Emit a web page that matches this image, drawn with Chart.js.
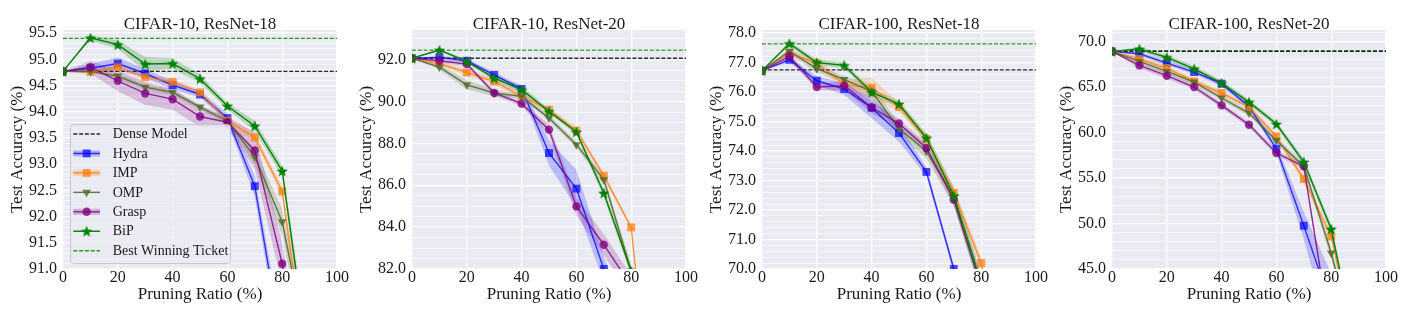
<!DOCTYPE html>
<html>
<head>
<meta charset="utf-8">
<script src="https://cdn.jsdelivr.net/npm/chart.js@4.4.0/dist/chart.umd.min.js"></script>
<style>
  body { margin: 0; background: #fff; width: 1412px; height: 333px; overflow: hidden; position: relative; }
  .panel { position: absolute; top: 0; width: 350px; height: 333px; }
</style>
</head>
<body>
<div class="panel" style="left:0px"><canvas id="c0" width="350" height="333"></canvas></div>
<div class="panel" style="left:349px"><canvas id="c1" width="350" height="333"></canvas></div>
<div class="panel" style="left:699px"><canvas id="c2" width="350" height="333"></canvas></div>
<div class="panel" style="left:1049px"><canvas id="c3" width="350" height="333"></canvas></div>
<script>
const ratios = [0, 10, 20, 30, 40, 50, 60, 70, 80, 90];
const xTicks = [0, 20, 40, 60, 80, 100];
const methods = ["Hydra", "IMP", "OMP", "Grasp", "BiP"];

// CIFAR-10, ResNet-18
const c10r18Dense = 94.77;
const c10r18Best = 95.40;
const c10r18Hydra = [94.77, 94.83, 94.92, 94.73, 94.51, 94.33, 93.88, 92.58, 89.5, 87.0];
const c10r18HydraSd = [0, 0.08, 0.12, 0.08, 0.08, 0.06, 0.08, 0.2, 0.3, 0.4];
const c10r18Imp = [94.77, 94.76, 94.85, 94.66, 94.57, 94.37, 93.83, 93.51, 92.48, 88.8];
const c10r18ImpSd = [0, 0.04, 0.05, 0.05, 0.05, 0.05, 0.05, 0.08, 0.1, 0.3];
const c10r18Omp = [94.77, 94.77, 94.68, 94.47, 94.37, 94.09, 93.82, 93.14, 91.9, 89.3];
const c10r18OmpSd = [0, 0.03, 0.05, 0.05, 0.05, 0.05, 0.05, 0.15, 0.25, 0.3];
const c10r18Grasp = [94.77, 94.85, 94.59, 94.35, 94.24, 93.91, 93.8, 93.26, 91.1, 88.0];
const c10r18GraspSd = [0, 0.12, 0.2, 0.22, 0.2, 0.2, 0.1, 0.35, 0.4, 0.5];
const c10r18Bip = [94.77, 95.41, 95.28, 94.91, 94.92, 94.63, 94.11, 93.73, 92.87, 89.1];
const c10r18BipSd = [0, 0.05, 0.08, 0.14, 0.1, 0.08, 0.06, 0.1, 0.1, 0.3];

// CIFAR-10, ResNet-20
const c10r20Dense = 92.07;
const c10r20Best = 92.46;
const c10r20Hydra = [92.07, 92.11, 91.95, 91.28, 90.6, 87.54, 85.84, 82.0, 78.5, 75.0];
const c10r20HydraSd = [0, 0.08, 0.1, 0.12, 0.15, 0.6, 0.9, 0.6, 0.6, 0.6];
const c10r20Imp = [92.07, 91.81, 91.39, 90.96, 90.25, 89.61, 88.61, 86.46, 83.99, 71.5];
const c10r20ImpSd = [0, 0.1, 0.15, 0.15, 0.12, 0.12, 0.15, 0.15, 0.1, 0.5];
const c10r20Omp = [92.07, 91.65, 90.8, 90.41, 90.25, 89.21, 87.94, 86.27, 81.9, 76.0];
const c10r20OmpSd = [0, 0.12, 0.22, 0.15, 0.1, 0.15, 0.15, 0.2, 0.3, 0.4];
const c10r20Grasp = [92.07, 91.95, 91.79, 90.41, 89.9, 88.66, 84.99, 83.16, 81.2, 77.0];
const c10r20GraspSd = [0, 0.1, 0.12, 0.12, 0.12, 0.25, 0.45, 0.5, 0.5, 0.5];
const c10r20Bip = [92.07, 92.46, 91.92, 91.12, 90.57, 89.53, 88.55, 85.63, 81.9, 75.0];
const c10r20BipSd = [0, 0.06, 0.08, 0.12, 0.2, 0.1, 0.12, 0.2, 0.2, 0.3];

// CIFAR-100, ResNet-18
const c100r18Dense = 76.75;
const c100r18Best = 77.63;
const c100r18Hydra = [76.72, 77.09, 76.38, 76.1, 75.46, 74.61, 73.29, 70.0, 66.0, 62.0];
const c100r18HydraSd = [0, 0.08, 0.15, 0.2, 0.35, 0.3, 0.15, 0.15, 0.3, 0.3];
const c100r18Imp = [76.72, 77.32, 76.98, 76.25, 76.14, 75.49, 74.41, 72.58, 70.2, 65.0];
const c100r18ImpSd = [0, 0.12, 0.1, 0.15, 0.35, 0.15, 0.15, 0.2, 0.2, 0.3];
const c100r18Omp = [76.72, 77.38, 76.79, 76.42, 76.02, 74.75, 73.99, 72.44, 69.5, 65.0];
const c100r18OmpSd = [0, 0.1, 0.12, 0.12, 0.2, 0.2, 0.25, 0.3, 0.3, 0.3];
const c100r18Grasp = [76.72, 77.21, 76.17, 76.21, 75.48, 74.93, 74.1, 72.35, 69.4, 65.0];
const c100r18GraspSd = [0, 0.1, 0.12, 0.15, 0.2, 0.15, 0.15, 0.2, 0.3, 0.3];
const c100r18Bip = [76.72, 77.64, 77.0, 76.9, 75.99, 75.59, 74.44, 72.48, 69.5, 65.0];
const c100r18BipSd = [0, 0.08, 0.1, 0.1, 0.12, 0.12, 0.15, 0.3, 0.3, 0.3];

// CIFAR-100, ResNet-20
const c100r20Dense = 68.92;
const c100r20Best = 68.95;
const c100r20Hydra = [68.9, 68.64, 67.62, 66.63, 65.35, 62.86, 58.21, 49.75, 41.0, 30.0];
const c100r20HydraSd = [0, 0.2, 0.25, 0.25, 0.3, 0.3, 0.5, 1.5, 3.5, 3.0];
const c100r20Imp = [68.9, 68.06, 67.07, 65.6, 64.33, 62.79, 59.56, 54.88, 48.58, 35.0];
const c100r20ImpSd = [0, 0.3, 0.3, 0.3, 0.3, 0.3, 0.3, 0.5, 0.5, 1.0];
const c100r20Omp = [68.9, 67.8, 66.7, 65.53, 63.78, 62.13, 59.12, 56.27, 46.76, 35.0];
const c100r20OmpSd = [0, 0.2, 0.3, 0.3, 0.3, 0.3, 0.3, 0.4, 0.6, 1.0];
const c100r20Grasp = [68.9, 67.36, 66.23, 64.99, 62.97, 60.85, 57.74, 56.27, 37.4, 30.0];
const c100r20GraspSd = [0, 0.3, 0.3, 0.3, 0.3, 0.3, 0.3, 0.3, 0.5, 1.0];
const c100r20Bip = [68.9, 69.16, 68.24, 66.99, 65.42, 63.33, 60.92, 56.75, 49.39, 35.0];
const c100r20BipSd = [0, 0.25, 0.3, 0.3, 0.3, 0.3, 0.3, 0.4, 0.5, 1.0];

const serif = "'Liberation Serif', 'Times New Roman', serif";
const textColor = "#1a1a1a";

// filled five point star used as the BiP marker
function starMarker(r, color) {
  const c = document.createElement("canvas");
  const s = Math.ceil(r * 2 + 2);
  c.width = s;
  c.height = s;
  const g = c.getContext("2d");
  g.beginPath();
  for (let k = 0; k < 10; k++) {
    const a = -Math.PI / 2 + (k * Math.PI) / 5;
    const rr = k % 2 ? r * 0.42 : r;
    g.lineTo(s / 2 + rr * Math.cos(a), s / 2 + 0.6 + rr * Math.sin(a));
  }
  g.closePath();
  g.fillStyle = color;
  g.fill();
  return c;
}

const styles = {
  Hydra: { color: [0, 0, 255], lineAlpha: 0.75, markAlpha: 0.7, bandAlpha: 0.2, pointStyle: "rect", radius: 5.6, rotation: 0 },
  IMP: { color: [255, 127, 14], lineAlpha: 0.8, markAlpha: 0.75, bandAlpha: 0.22, pointStyle: "rect", radius: 5.6, rotation: 0 },
  OMP: { color: [85, 107, 47], lineAlpha: 0.9, markAlpha: 0.85, bandAlpha: 0.22, pointStyle: "triangle", radius: 5, rotation: 180 },
  Grasp: { color: [128, 0, 128], lineAlpha: 0.8, markAlpha: 0.8, bandAlpha: 0.2, pointStyle: "circle", radius: 4.2, rotation: 0 },
  BiP: { color: [0, 128, 0], lineAlpha: 1, markAlpha: 1, bandAlpha: 0.22, pointStyle: starMarker(6, "rgb(0,128,0)"), radius: 6, rotation: 0 },
};
const denseColor = "rgba(20,20,20,0.9)";
const bestColor = "rgba(20,150,20,0.95)";
const refDash = [4, 1.8];

function rgba(c, a) {
  return `rgba(${c[0]},${c[1]},${c[2]},${a})`;
}

const panels = [
  {
    title: "CIFAR-10, ResNet-18", yMin: 91, yMax: 95.56, major: 0.5, minor: 0.1,
    dense: c10r18Dense, best: c10r18Best, legend: true,
    series: { Hydra: [c10r18Hydra, c10r18HydraSd], IMP: [c10r18Imp, c10r18ImpSd], OMP: [c10r18Omp, c10r18OmpSd], Grasp: [c10r18Grasp, c10r18GraspSd], BiP: [c10r18Bip, c10r18BipSd] },
  },
  {
    title: "CIFAR-10, ResNet-20", yMin: 82, yMax: 93.42, major: 2, minor: 0.5,
    dense: c10r20Dense, best: c10r20Best, legend: false,
    series: { Hydra: [c10r20Hydra, c10r20HydraSd], IMP: [c10r20Imp, c10r20ImpSd], OMP: [c10r20Omp, c10r20OmpSd], Grasp: [c10r20Grasp, c10r20GraspSd], BiP: [c10r20Bip, c10r20BipSd] },
  },
  {
    title: "CIFAR-100, ResNet-18", yMin: 70, yMax: 78.1, major: 1, minor: 0.2,
    dense: c100r18Dense, best: c100r18Best, legend: false,
    series: { Hydra: [c100r18Hydra, c100r18HydraSd], IMP: [c100r18Imp, c100r18ImpSd], OMP: [c100r18Omp, c100r18OmpSd], Grasp: [c100r18Grasp, c100r18GraspSd], BiP: [c100r18Bip, c100r18BipSd] },
  },
  {
    title: "CIFAR-100, ResNet-20", yMin: 45, yMax: 71.25, major: 5, minor: 1,
    dense: c100r20Dense, best: c100r20Best, legend: false,
    series: { Hydra: [c100r20Hydra, c100r20HydraSd], IMP: [c100r20Imp, c100r20ImpSd], OMP: [c100r20Omp, c100r20OmpSd], Grasp: [c100r20Grasp, c100r20GraspSd], BiP: [c100r20Bip, c100r20BipSd] },
  },
];

function isMajor(v, step) {
  return Math.abs(v / step - Math.round(v / step)) < 1e-6;
}

function buildDatasets(p) {
  const sets = [];
  // shaded bands first so they sit under everything
  methods.forEach((name) => {
    const [mean, sd] = p.series[name];
    const st = styles[name];
    sets.push({
      data: ratios.map((x, i) => ({ x, y: mean[i] - sd[i] })),
      borderWidth: 0, borderColor: "transparent", pointRadius: 0, fill: false, order: 10,
    });
    sets.push({
      data: ratios.map((x, i) => ({ x, y: mean[i] + sd[i] })),
      borderWidth: 0, borderColor: "transparent", pointRadius: 0, fill: "-1",
      backgroundColor: rgba(st.color, st.bandAlpha), order: 10,
    });
  });
  sets.push({
    data: [{ x: 0, y: p.dense }, { x: 100, y: p.dense }],
    borderColor: denseColor, borderWidth: 1.4, borderDash: refDash, pointRadius: 0, fill: false, order: 7,
  });
  sets.push({
    data: [{ x: 0, y: p.best }, { x: 100, y: p.best }],
    borderColor: bestColor, borderWidth: 1.4, borderDash: refDash, pointRadius: 0, fill: false, order: 7,
  });
  methods.forEach((name, k) => {
    const [mean] = p.series[name];
    const st = styles[name];
    sets.push({
      label: name,
      data: ratios.map((x, i) => ({ x, y: mean[i] })),
      borderColor: rgba(st.color, st.lineAlpha),
      borderWidth: 1.4,
      pointStyle: st.pointStyle,
      pointRadius: st.radius,
      pointRotation: st.rotation,
      pointBackgroundColor: rgba(st.color, st.markAlpha),
      pointBorderWidth: 0,
      fill: false,
      order: methods.length - k,
    });
  });
  return sets;
}

// grey plotting background like seaborn darkgrid
const panelBackground = {
  id: "panelBackground",
  beforeDraw(chart) {
    const a = chart.chartArea;
    const ctx = chart.ctx;
    ctx.save();
    ctx.fillStyle = "#eaeaf2";
    ctx.fillRect(a.left, a.top, a.right - a.left, a.bottom - a.top);
    ctx.restore();
  },
};

// title centred over the plotting area, not over the whole canvas
const panelTitle = {
  id: "panelTitle",
  afterDraw(chart, args, opts) {
    const a = chart.chartArea;
    const ctx = chart.ctx;
    ctx.save();
    ctx.fillStyle = textColor;
    ctx.font = `17px ${serif}`;
    ctx.textAlign = "center";
    ctx.textBaseline = "alphabetic";
    ctx.fillText(opts.text, (a.left + a.right) / 2, a.top - 1.5);
    ctx.restore();
  },
};

const legendEntries = [
  { label: "Dense Model", color: denseColor, dash: true },
  { label: "Hydra", method: "Hydra", band: true },
  { label: "IMP", method: "IMP", band: true },
  { label: "OMP", method: "OMP" },
  { label: "Grasp", method: "Grasp", band: true },
  { label: "BiP", method: "BiP" },
  { label: "Best Winning Ticket", color: bestColor, dash: true },
];

const boxLegend = {
  id: "boxLegend",
  afterDatasetsDraw(chart, args, opts) {
    if (!opts.show) return;
    const ctx = chart.ctx;
    const a = chart.chartArea;
    const left = a.left + 7, top = a.top + 94, w = 160, h = 139;
    ctx.save();
    ctx.beginPath();
    ctx.roundRect(left + 0.5, top + 0.5, w, h, 3);
    ctx.fillStyle = "rgba(234,234,242,0.8)";
    ctx.fill();
    ctx.strokeStyle = "rgba(195,195,200,0.9)";
    ctx.lineWidth = 1;
    ctx.stroke();
    legendEntries.forEach((e, i) => {
      const y = top + 10 + i * 19.45;
      const x1 = left + 3.3, x2 = left + 30, xm = (x1 + x2) / 2;
      if (e.dash) {
        ctx.setLineDash(refDash);
        ctx.strokeStyle = e.color;
        ctx.lineWidth = 1.4;
        ctx.beginPath();
        ctx.moveTo(x1, y);
        ctx.lineTo(x2, y);
        ctx.stroke();
        ctx.setLineDash([]);
      } else {
        const st = styles[e.method];
        if (e.band) {
          ctx.fillStyle = rgba(st.color, 0.25);
          ctx.fillRect(x1, y - 3, x2 - x1, 6);
        }
        ctx.strokeStyle = rgba(st.color, st.lineAlpha);
        ctx.lineWidth = 1.4;
        ctx.beginPath();
        ctx.moveTo(x1, y);
        ctx.lineTo(x2, y);
        ctx.stroke();
        ctx.fillStyle = rgba(st.color, st.markAlpha);
        Chart.helpers.drawPoint(ctx, { pointStyle: st.pointStyle, radius: st.radius, rotation: st.rotation, borderWidth: 0 }, xm, y);
      }
      ctx.fillStyle = textColor;
      ctx.font = `14px ${serif}`;
      ctx.textBaseline = "middle";
      ctx.textAlign = "left";
      ctx.fillText(e.label, left + 42.7, y + 0.5);
    });
    ctx.restore();
  },
};

panels.forEach((p, idx) => {
  const ctx = document.getElementById("c" + idx).getContext("2d");
  new Chart(ctx, {
    type: "line",
    data: { datasets: buildDatasets(p) },
    plugins: [panelBackground, boxLegend, panelTitle],
    options: {
      responsive: false,
      animation: false,
      layout: { padding: { left: 0, right: 13, top: 30, bottom: 0 } },
      plugins: {
        legend: { display: false },
        tooltip: { enabled: false },
        boxLegend: { show: p.legend },
        panelTitle: { text: p.title },
      },
      scales: {
        x: {
          type: "linear",
          min: 0,
          max: 100,
          afterBuildTicks: (scale) => {
            scale.ticks = xTicks.map((v) => ({ value: v }));
          },
          afterFit: (scale) => {
            scale.height = 64;
          },
          grid: { color: "#ffffff", lineWidth: 1.3, drawTicks: false },
          border: { display: false },
          ticks: {
            color: textColor,
            font: { family: serif, size: 16, lineHeight: 1 },
            padding: 1,
            maxRotation: 0,
            autoSkip: false,
          },
          title: {
            display: true,
            text: "Pruning Ratio (%)",
            color: textColor,
            font: { family: serif, size: 17, lineHeight: 1 },
            padding: { top: 0, bottom: 29.5 },
          },
        },
        y: {
          type: "linear",
          min: p.yMin,
          max: p.yMax,
          afterBuildTicks: (scale) => {
            const vals = [];
            const start = Math.ceil(p.yMin / p.minor - 1e-9);
            for (let k = start; k * p.minor <= p.yMax + 1e-9; k++) {
              vals.push({ value: +(k * p.minor).toFixed(4) });
            }
            scale.ticks = vals;
          },
          afterFit: (scale) => {
            scale.width = 63;
          },
          grid: {
            drawTicks: false,
            color: (c) => (c.tick && isMajor(c.tick.value, p.major) ? "#ffffff" : "rgba(255,255,255,0.9)"),
            lineWidth: (c) => (c.tick && isMajor(c.tick.value, p.major) ? 1.3 : 0.7),
          },
          border: { display: false },
          ticks: {
            color: textColor,
            font: { family: serif, size: 16, lineHeight: 1 },
            padding: 6,
            autoSkip: false,
            callback: (v) => (isMajor(v, p.major) ? v.toFixed(1) : ""),
          },
          title: {
            display: true,
            text: "Test Accuracy (%)",
            color: textColor,
            font: { family: serif, size: 17, lineHeight: 1 },
            padding: { top: 9.5, bottom: 0 },
          },
        },
      },
    },
  });
});
</script>
</body>
</html>
